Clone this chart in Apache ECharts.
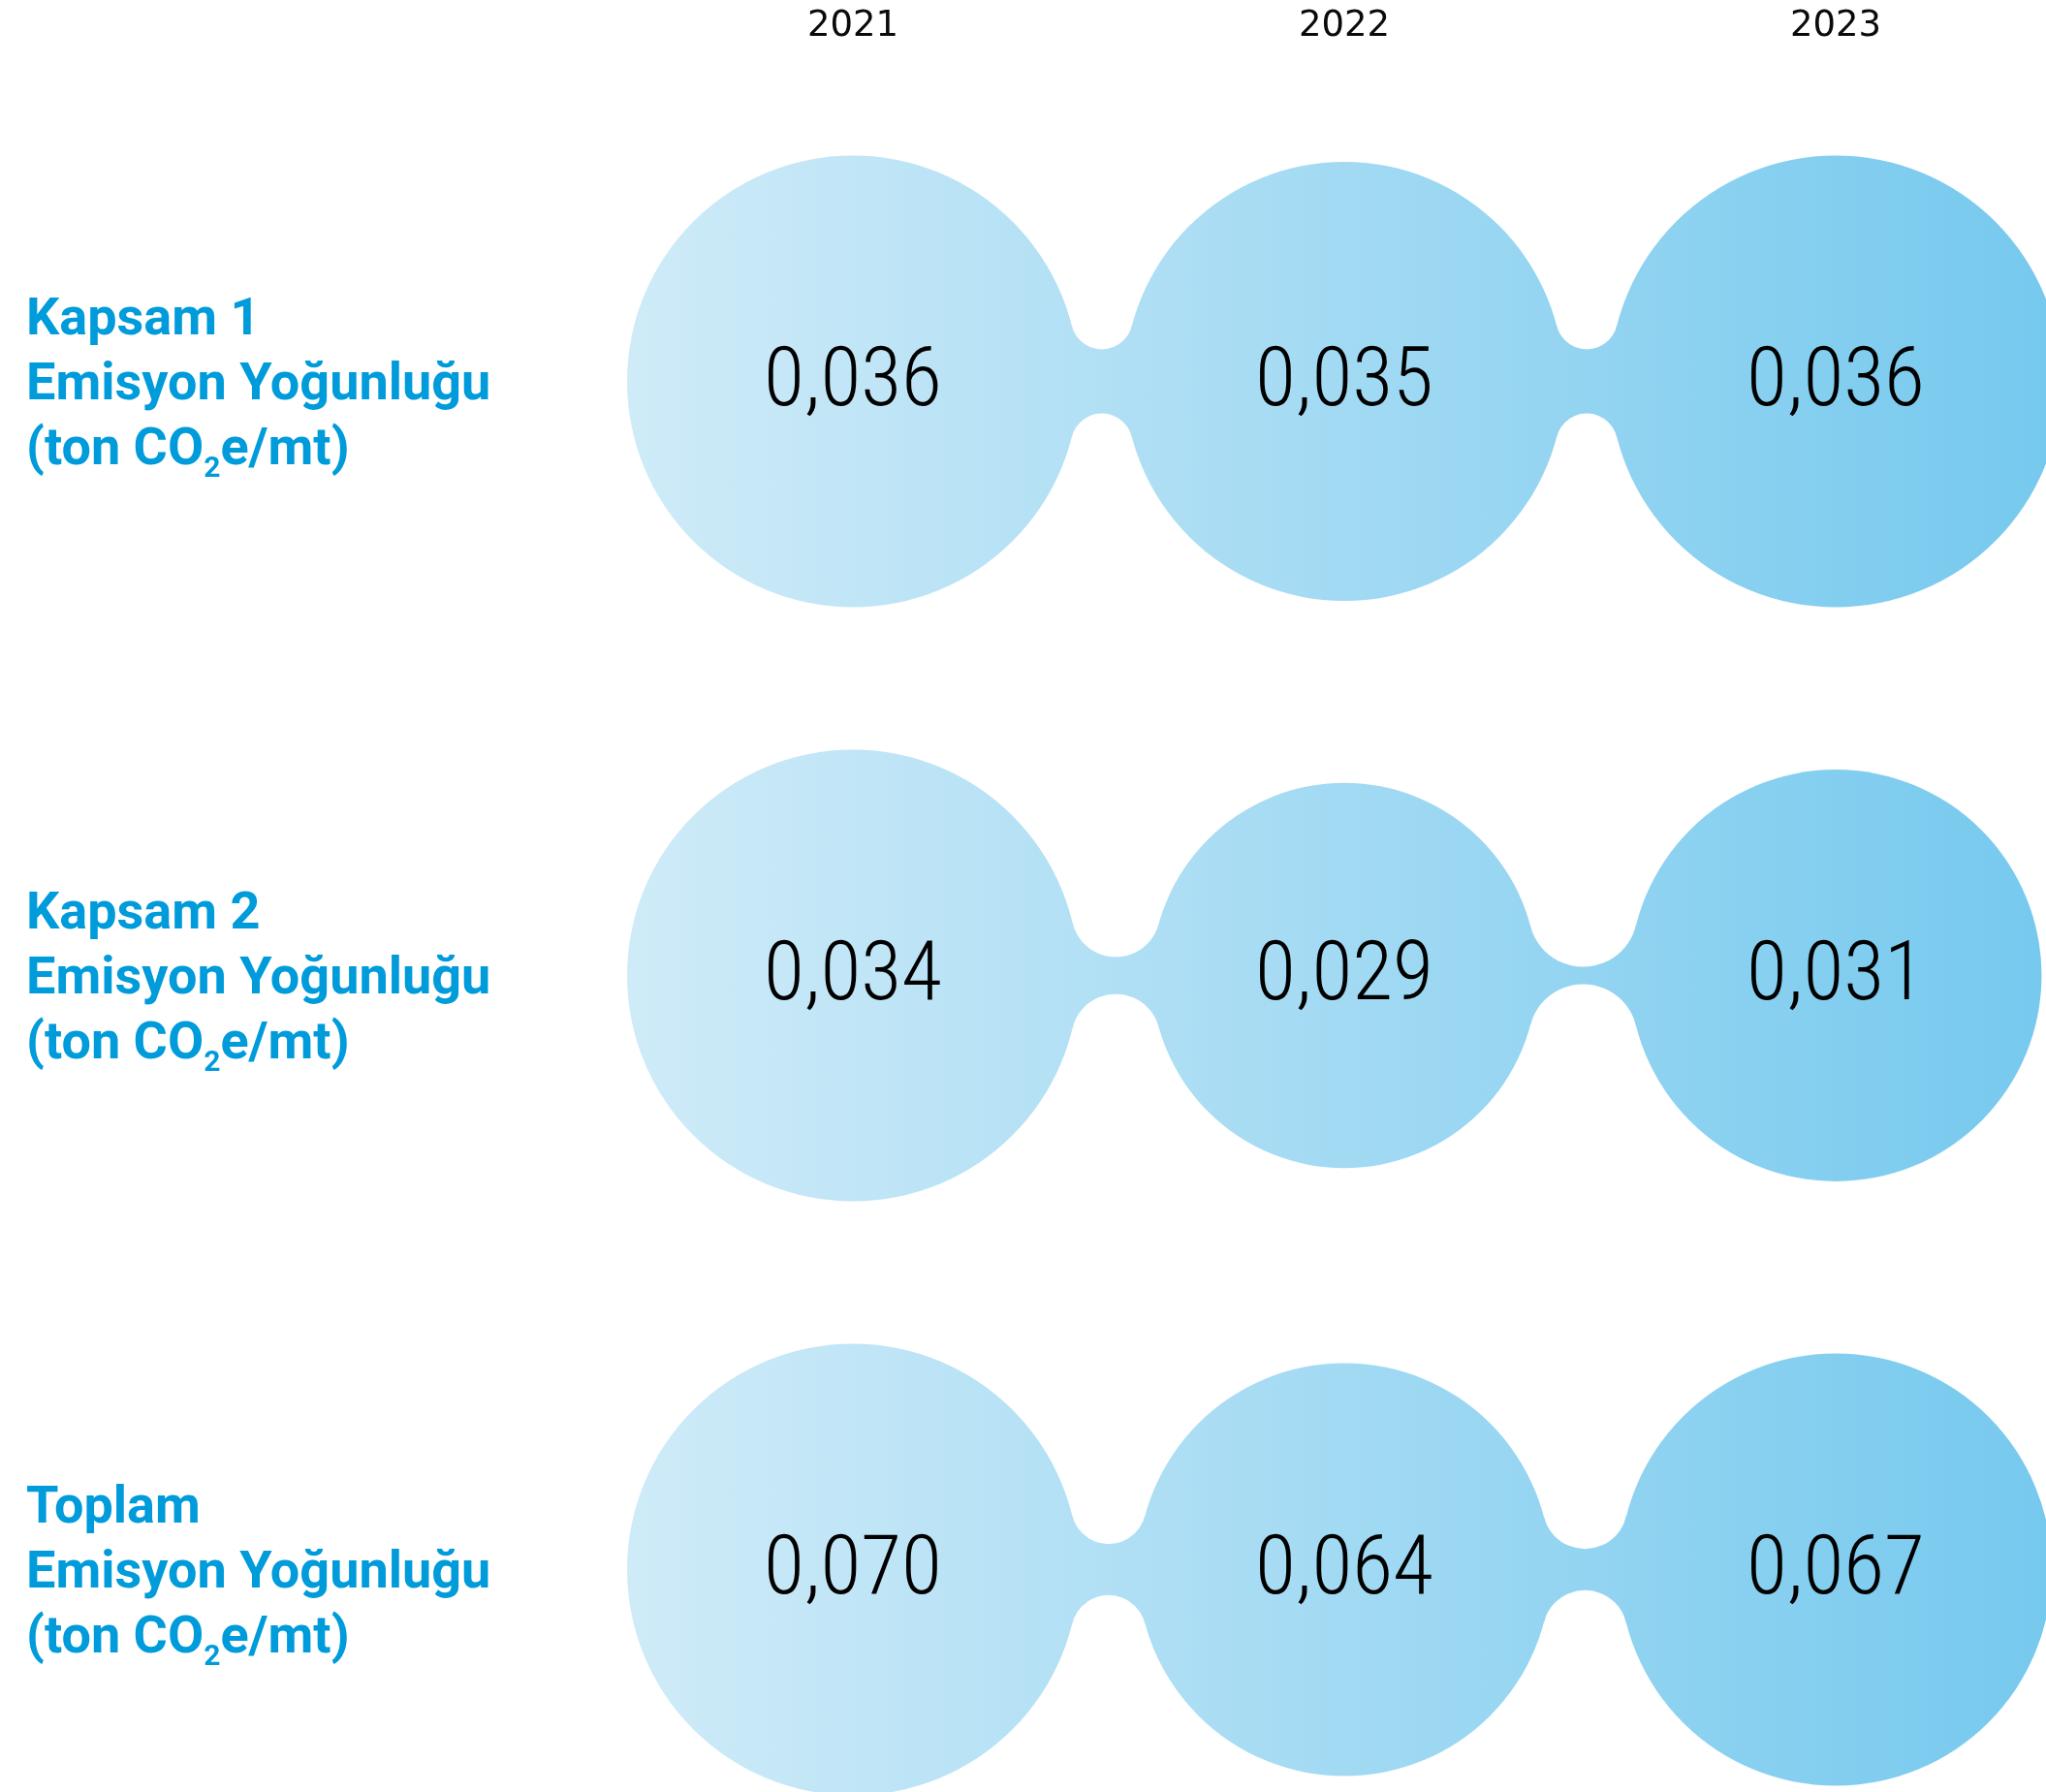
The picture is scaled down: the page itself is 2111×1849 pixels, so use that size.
<!DOCTYPE html>
<html>
<head>
<meta charset="utf-8">
<script src="https://cdn.jsdelivr.net/npm/echarts@6/dist/echarts.min.js"></script>
<style>
html,body{margin:0;padding:0;background:#fff;}
#c{width:2111px;height:1849px;}
</style>
</head>
<body>
<div id="c"></div>
<script>
// ---- data ----
const years = ['2021', '2022', '2023'];
const rowTitles = ['Kapsam 1', 'Kapsam 2', 'Toplam'];
const subtitleLine = 'Emisyon Yoğunluğu';
const unitParts = ['(ton CO', '2', 'e/mt)'];
const kapsam1 = [0.036, 0.035, 0.036];
const kapsam2 = [0.034, 0.029, 0.031];
const toplam = [0.070, 0.064, 0.067];
const rows = [kapsam1, kapsam2, toplam];

// ---- styling constants ----
const R_MAX = 233;
const NOTCH_OFFSET = 65;
const LABEL_BLUE = '#009bda';
const VALUE_FONT = "'Roboto Condensed', 'Roboto', sans-serif";

const rowMax = rows.map(r => Math.max(...r));
const radius = (v, ri) => R_MAX * v / rowMax[ri];
const fmt = v => v.toFixed(3).replace('.', ',');
const grad = () => new echarts.graphic.LinearGradient(647, 0, 2111, 0, [
  { offset: 0, color: '#cfebf8' },
  { offset: 1, color: '#76c9ee' }
], true);

const circleData = [];
rows.forEach((r, ri) => r.forEach((v, ci) => circleData.push([ci, ri, v])));
const bridgeData = [];
rows.forEach((r, ri) => { for (let i = 0; i < r.length - 1; i++) bridgeData.push([i, ri, r[i], r[i + 1]]); });

function solveNotch(d, R1, R2, s) {
  let lo = 0, hi = d;
  const f = x => (Math.hypot(x, s) - R1) - (Math.hypot(d - x, s) - R2);
  for (let k = 0; k < 80; k++) {
    const m = (lo + hi) / 2;
    if (f(m) > 0) hi = m; else lo = m;
  }
  const x = (lo + hi) / 2;
  return { x: x, r: Math.hypot(x, s) - R1 };
}

const chart = echarts.init(document.getElementById('c'), null, { renderer: 'canvas' });

const option = {
  backgroundColor: '#ffffff',
  animation: false,
  grid: { left: 880, right: 217, top: 393.5, bottom: 229.5, containLabel: false, outerBoundsMode: 'none' },
  xAxis: {
    type: 'category',
    position: 'top',
    data: years,
    boundaryGap: false,
    axisLine: { show: false },
    axisTick: { show: false },
    splitLine: { show: false },
    axisLabel: {
      margin: 366,
      verticalAlign: 'middle',
      fontFamily: "'DejaVu Sans', sans-serif",
      fontSize: 37,
      color: '#0a0a0a'
    }
  },
  yAxis: {
    type: 'category',
    data: rowTitles,
    inverse: true,
    boundaryGap: false,
    axisLine: { show: false },
    axisTick: { show: false },
    splitLine: { show: false },
    axisLabel: {
      align: 'left',
      verticalAlign: 'middle',
      margin: 853,
      padding: [10, 0, 0, 0],
      formatter: function (val) {
        return '{t|' + val + '}\n{t|' + subtitleLine + '}\n{t|' + unitParts[0] + '}{s|' + unitParts[1] + '}{t|' + unitParts[2] + '}';
      },
      rich: {
        t: { fontFamily: 'Roboto', fontWeight: 'bold', fontSize: 54, color: LABEL_BLUE, lineHeight: 67 },
        s: { fontFamily: 'Roboto', fontWeight: 'bold', fontSize: 30, color: LABEL_BLUE, lineHeight: 27, verticalAlign: 'bottom' }
      }
    }
  },
  series: [
    {
      type: 'custom',
      name: 'bridges',
      z: 1,
      silent: true,
      data: bridgeData,
      renderItem: function (params, api) {
        const ci = api.value(0), ri = api.value(1);
        const p1 = api.coord([ci, ri]);
        const p2 = api.coord([ci + 1, ri]);
        const R1 = radius(api.value(2), ri);
        const R2 = radius(api.value(3), ri);
        const d = p2[0] - p1[0];
        const s = NOTCH_OFFSET;
        const n = solveNotch(d, R1, R2, s);
        const nx = p1[0] + n.x, cy = p1[1];
        return {
          type: 'group',
          children: [
            { type: 'polygon', shape: { points: [[p1[0], cy], [nx, cy - s], [p2[0], cy], [nx, cy + s]] }, style: { fill: grad() } },
            { type: 'circle', shape: { cx: nx, cy: cy - s, r: n.r }, style: { fill: '#ffffff' } },
            { type: 'circle', shape: { cx: nx, cy: cy + s, r: n.r }, style: { fill: '#ffffff' } }
          ]
        };
      }
    },
    {
      type: 'custom',
      name: 'circles',
      z: 3,
      silent: true,
      data: circleData,
      renderItem: function (params, api) {
        const ci = api.value(0), ri = api.value(1), v = api.value(2);
        const p = api.coord([ci, ri]);
        const r = radius(v, ri);
        return {
          type: 'group',
          children: [
            { type: 'circle', shape: { cx: p[0], cy: p[1], r: r }, style: { fill: grad() } },
            { type: 'text', z2: 10, style: { text: fmt(v), x: p[0], y: p[1] + 3, align: 'center', verticalAlign: 'middle', fontSize: 86, fontWeight: 300, fontFamily: VALUE_FONT, fill: '#000000' } }
          ]
        };
      }
    }
  ]
};
chart.setOption(option);
</script>
</body>
</html>
